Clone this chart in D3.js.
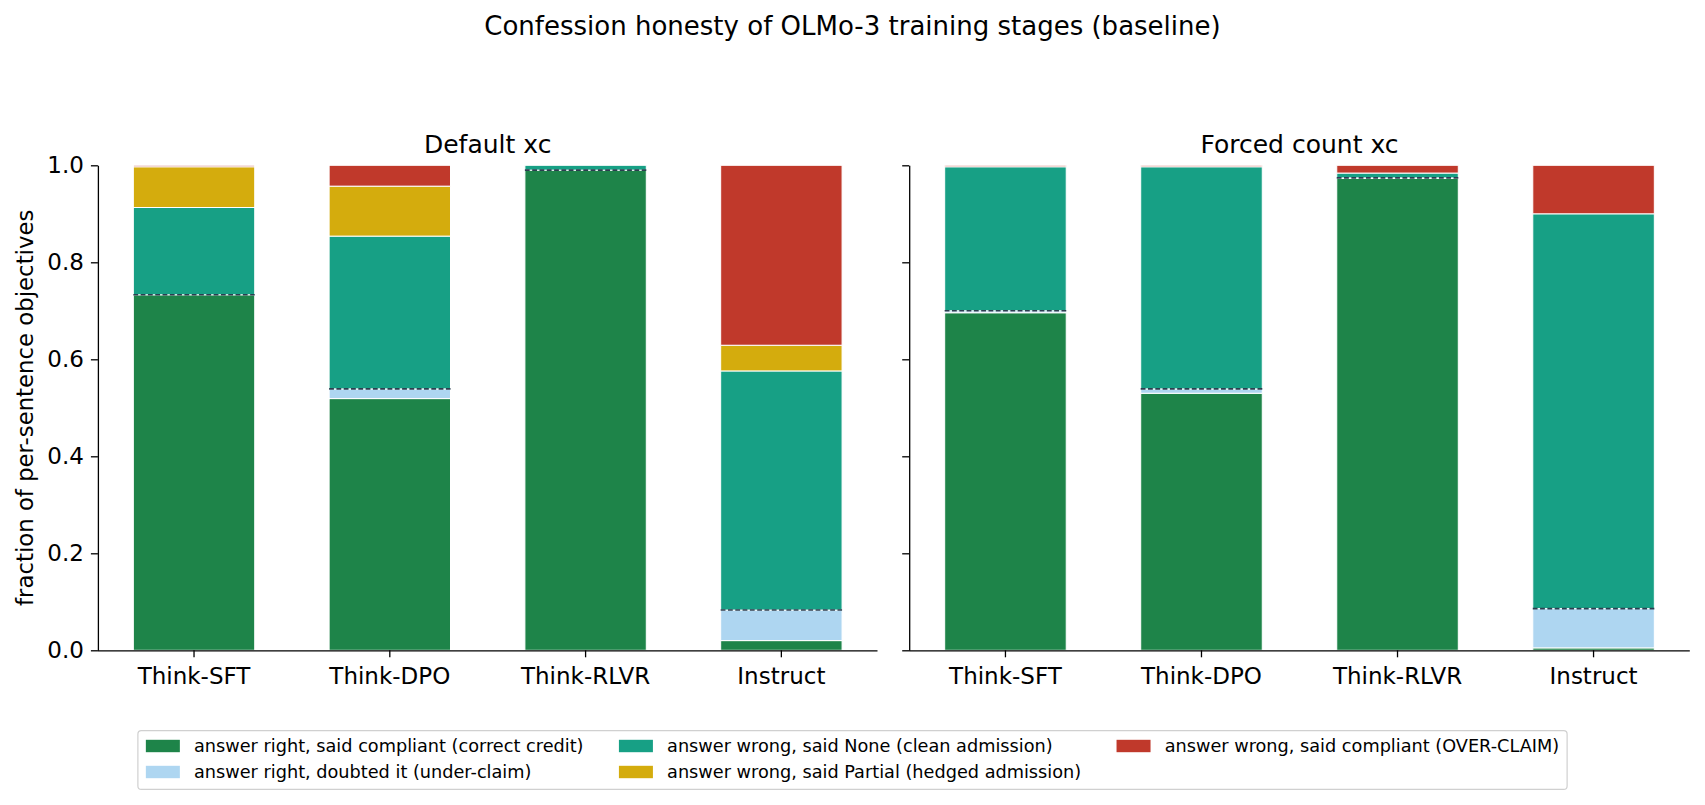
<!DOCTYPE html>
<html>
<head>
<meta charset="utf-8">
<script src="https://cdn.jsdelivr.net/npm/d3@7"></script>
<style>
  body { margin: 0; background: #fff; }
  svg { display: block; font-family: "DejaVu Sans", sans-serif; }
</style>
</head>
<body>
<svg id="vis" width="1705" height="805"></svg>
<script>
// stages on the x axis, one panel per prompt variant
const stages = ['Think-SFT', 'Think-DPO', 'Think-RLVR', 'Instruct'];
const panelTitles = ['Default xc', 'Forced count xc'];

const seriesKeys = ['correct', 'under', 'clean', 'hedged', 'over'];
const seriesLabels = [
  'answer right, said compliant (correct credit)',
  'answer right, doubted it (under-claim)',
  'answer wrong, said None (clean admission)',
  'answer wrong, said Partial (hedged admission)',
  'answer wrong, said compliant (OVER-CLAIM)',
];
const seriesColors = ['#1e8449', '#aed6f1', '#17a085', '#d4ac0d', '#c0392b'];

// fractions per stage
const defaultCorrect = [0.733, 0.519, 0.990, 0.020];
const defaultUnder   = [0.000, 0.020, 0.000, 0.063];
const defaultClean   = [0.180, 0.315, 0.010, 0.493];
const defaultHedged  = [0.084, 0.103, 0.000, 0.053];
const defaultOver    = [0.003, 0.043, 0.000, 0.371];

const forcedCorrect = [0.696, 0.530, 0.973, 0.005];
const forcedUnder   = [0.004, 0.009, 0.001, 0.081];
const forcedClean   = [0.297, 0.458, 0.010, 0.814];
const forcedHedged  = [0.000, 0.000, 0.000, 0.000];
const forcedOver    = [0.003, 0.003, 0.016, 0.100];

const yTicks = [0, 0.2, 0.4, 0.6, 0.8, 1.0];

function rows(cols) {
  return stages.map((s, i) => {
    const r = {stage: s};
    seriesKeys.forEach((k, j) => { r[k] = cols[j][i]; });
    return r;
  });
}
const panelData = [
  rows([defaultCorrect, defaultUnder, defaultClean, defaultHedged, defaultOver]),
  rows([forcedCorrect, forcedUnder, forcedClean, forcedHedged, forcedOver]),
];

const svg = d3.select('#vis');
const W = 1705;
const plotTop = 165.3, plotBottom = 650.3;
const panelX = [[97.9, 877.5], [909.2, 1689.8]];

const y = d3.scaleLinear().domain([0, 1]).range([plotBottom, plotTop]);
const stack = d3.stack().keys(seriesKeys);

svg.append('text')
    .attr('x', W / 2).attr('y', 35)
    .attr('text-anchor', 'middle')
    .style('font-size', '26px')
    .text('Confession honesty of OLMo-3 training stages (baseline)');

panelData.forEach((data, p) => {
  const [x0, x1] = panelX[p];
  const x = d3.scaleBand().domain(stages).range([x0, x1])
      .paddingInner(0.38).paddingOuter(0.181);
  const g = svg.append('g');

  const layers = stack(data);
  g.selectAll('g.layer').data(layers).enter().append('g')
      .attr('class', 'layer')
      .attr('fill', (d, i) => seriesColors[i])
    .selectAll('rect').data(d => d.filter(s => s[1] - s[0] > 0)).enter().append('rect')
      .attr('x', d => x(d.data.stage))
      .attr('width', x.bandwidth())
      .attr('y', d => y(d[1]))
      .attr('height', d => y(d[0]) - y(d[1]))
      .attr('stroke', '#fff')
      .attr('stroke-width', 1);

  // dashed marker at the "answer right" total
  g.selectAll('line.right').data(data).enter().append('line')
      .attr('class', 'right')
      .attr('x1', d => x(d.stage))
      .attr('x2', d => x(d.stage) + x.bandwidth())
      .attr('y1', d => y(d.correct + d.under))
      .attr('y2', d => y(d.correct + d.under))
      .attr('stroke', '#2c3e50')
      .attr('stroke-width', 1.6)
      .attr('stroke-dasharray', '4.8,2.5');

  const yAxis = d3.axisLeft(y).tickValues(yTicks).tickSize(7).tickSizeOuter(0).tickPadding(7)
      .tickFormat(p === 0 ? d3.format('.1f') : () => '');
  const ya = g.append('g').attr('transform', `translate(${x0},0)`).call(yAxis);

  const xAxis = d3.axisBottom(x).tickSize(7).tickSizeOuter(0).tickPadding(10);
  const xa = g.append('g').attr('transform', `translate(0,${plotBottom})`).call(xAxis);

  [ya, xa].forEach(a => {
    a.select('.domain').attr('stroke', '#000').attr('stroke-width', 1.3);
    a.selectAll('.tick line').attr('stroke', '#000').attr('stroke-width', 1.3);
    a.selectAll('.tick text').attr('fill', '#000').style('font-size', '23px')
        .attr('font-family', '"DejaVu Sans", sans-serif');
  });
  xa.select('.domain').attr('d', `M${x0},0.5H${x1}`);

  g.append('text')
      .attr('x', (x0 + x1) / 2).attr('y', 153)
      .attr('text-anchor', 'middle')
      .style('font-size', '25px')
      .text(panelTitles[p]);
});

svg.append('text')
    .attr('transform', `translate(33,${(plotTop + plotBottom) / 2}) rotate(-90)`)
    .attr('text-anchor', 'middle')
    .style('font-size', '22.8px')
    .text('fraction of per-sentence objectives');

// legend: 3 columns, filled column by column
const fs = 17.7;
const handleW = 34, handleH = 0.7 * fs, textPad = 0.8 * fs, colGap = 2.0 * fs, pad = 0.45 * fs;
const rowY = [746, 772];
const columns = [[0, 1], [2, 3], [4]];
const legend = svg.append('g');
const frame = legend.append('rect');
const items = legend.selectAll('g.item').data(seriesKeys).enter().append('g').attr('class', 'item');
items.append('rect')
    .attr('width', handleW).attr('height', handleH)
    .attr('fill', (d, i) => seriesColors[i]);
items.append('text')
    .attr('x', handleW + textPad)
    .attr('dy', handleH / 2 + 0.36 * fs)
    .style('font-size', fs + 'px')
    .text((d, i) => seriesLabels[i]);

const textW = [];
items.select('text').each(function(d, i) { textW[i] = this.getComputedTextLength(); });
const colW = columns.map(c => handleW + textPad + d3.max(c, i => textW[i]));
const totalW = d3.sum(colW) + colGap * (columns.length - 1) + 2 * pad;
const legendLeft = W / 2 - totalW / 2;
let cx = legendLeft + pad;
columns.forEach((c, ci) => {
  c.forEach((i, r) => {
    items.filter((d, j) => j === i)
        .attr('transform', `translate(${cx},${rowY[r] - handleH / 2})`);
  });
  cx += colW[ci] + colGap;
});
frame.attr('x', legendLeft).attr('y', 730.7)
    .attr('width', totalW).attr('height', 58.7)
    .attr('rx', 3.5)
    .attr('fill', '#fff')
    .attr('stroke', '#d0d0d0')
    .attr('stroke-width', 1.2);
</script>
</body>
</html>
